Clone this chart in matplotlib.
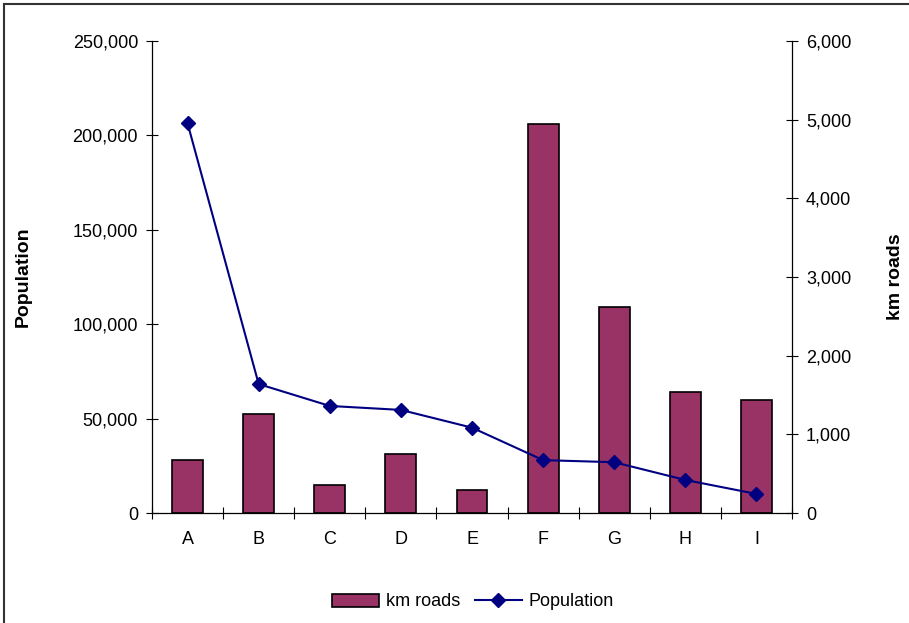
import matplotlib
matplotlib.use("Agg")
import matplotlib.pyplot as plt
from matplotlib.lines import Line2D
from matplotlib.ticker import FuncFormatter, MultipleLocator

plt.rcParams['font.family'] = ['Liberation Sans', 'DejaVu Sans']

categories = ['A', 'B', 'C', 'D', 'E', 'F', 'G', 'H', 'I']
km_roads = [674, 1255, 356, 746, 292, 4945, 2619, 1542, 1432]
population = [206400, 68300, 56700, 54600, 45200, 28000, 26900, 17500, 10100]

bar_color = '#993366'
line_color = '#000080'

fig = plt.figure(figsize=(9.09, 6.23), dpi=100)
ax = fig.add_axes([152/909, 110/623, 640/909, 472/623])
ax2 = ax.twinx()

x = list(range(len(categories)))

# bars on secondary (right) axis
ax2.bar(x, km_roads, width=0.435, color=bar_color, edgecolor='black',
        linewidth=1.2, zorder=2)
ax2.set_ylim(0, 6000)
ax2.yaxis.set_major_locator(MultipleLocator(1000))

# line on primary (left) axis, drawn on top
ax.plot(x, population, color=line_color, linewidth=1.5, marker='D',
        markersize=7, markerfacecolor=line_color, markeredgecolor=line_color)
ax.set_ylim(0, 250000)
ax.yaxis.set_major_locator(MultipleLocator(50000))
ax.set_xlim(-0.5, len(categories) - 0.5)
ax.set_zorder(ax2.get_zorder() + 1)
ax.patch.set_visible(False)

fmt = FuncFormatter(lambda v, p: f'{int(v):,}')
ax.yaxis.set_major_formatter(fmt)
ax2.yaxis.set_major_formatter(fmt)

ax.set_xticks(x)
ax.set_xticklabels(categories)
ax.set_xticks([i + 0.5 for i in range(-1, len(categories))], minor=True)
ax.tick_params(axis='x', which='major', length=0, pad=13, labelsize=13)
ax.tick_params(axis='x', which='minor', length=8, direction='inout', width=0.8)
ax.tick_params(axis='y', length=8, direction='inout', width=0.8, labelsize=13, pad=6)
ax2.tick_params(axis='y', length=8, direction='inout', width=0.8, labelsize=13, pad=6)

for a in (ax, ax2):
    a.spines['top'].set_visible(False)
    for s in ('left', 'right', 'bottom'):
        a.spines[s].set_linewidth(0.9)
        a.spines[s].set_color('black')
ax.spines['right'].set_visible(False)
ax2.spines['left'].set_visible(False)
ax2.spines['bottom'].set_visible(False)

fig.text(23/909, 1 - 277/623, 'Population', rotation=90, ha='center', va='center',
         fontsize=14, fontweight='bold')
fig.text(895/909, 1 - 277/623, 'km roads', rotation=90, ha='center', va='center',
         fontsize=14, fontweight='bold')

handles = [
    plt.Rectangle((0, 0), 1, 1, facecolor=bar_color, edgecolor='black', linewidth=1.2),
    Line2D([0], [0], color=line_color, linewidth=1.5, marker='D', markersize=7,
           markerfacecolor=line_color, markeredgecolor=line_color),
]
fig.legend(handles, ['km roads', 'Population'], loc='center',
           bbox_to_anchor=(473/909, 1 - 602/623), ncol=2, frameon=False,
           fontsize=13, handlelength=2.6, handletextpad=0.4, columnspacing=0.8)

# outer chart border (top and left visible)
fig.add_artist(Line2D([4/909, 1.0], [1 - 4/623, 1 - 4/623], color='#333333', linewidth=1.5,
                      transform=fig.transFigure))
fig.add_artist(Line2D([4/909, 4/909], [0.0, 1 - 4/623], color='#333333', linewidth=1.5,
                      transform=fig.transFigure))

fig.savefig('out.png', dpi=100)
